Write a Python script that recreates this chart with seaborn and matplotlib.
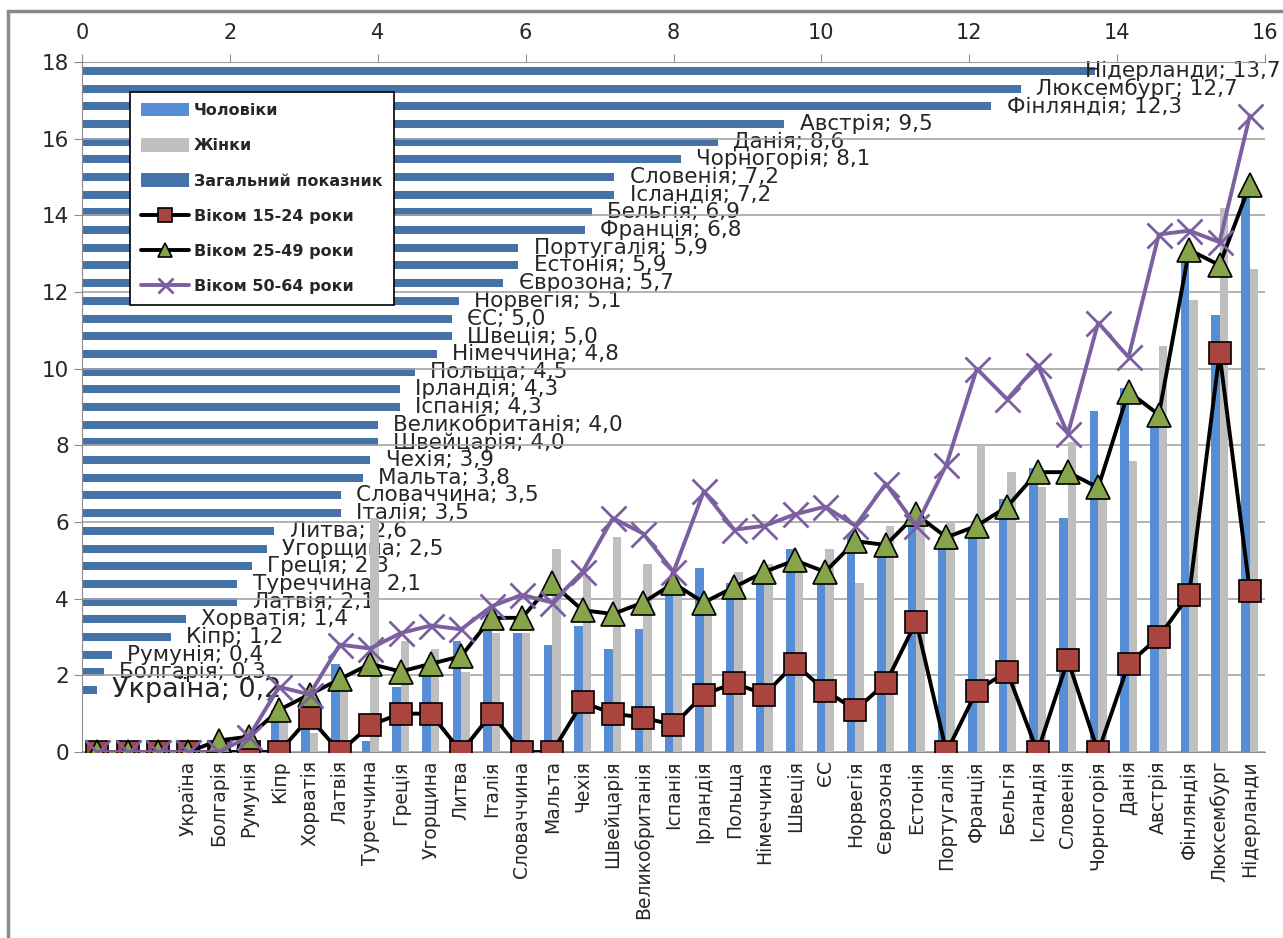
import numpy as np
import pandas as pd
import matplotlib
matplotlib.use("Agg")
import matplotlib.pyplot as plt
from matplotlib.patches import Rectangle
import seaborn as sns

# countries on the bottom axis (left to right); the horizontal bars use the reverse order
countries = ["Україна", "Болгарія", "Румунія", "Кіпр", "Хорватія", "Латвія", "Туреччина",
             "Греція", "Угорщина", "Литва", "Італія", "Словаччина", "Мальта", "Чехія",
             "Швейцарія", "Великобританія", "Іспанія", "Ірландія", "Польща", "Німеччина",
             "Швеція", "ЄС", "Норвегія", "Єврозона", "Естонія", "Португалія", "Франція",
             "Бельгія", "Ісландія", "Словенія", "Чорногорія", "Данія", "Австрія",
             "Фінляндія", "Люксембург", "Нідерланди"]
total = [0.2, 0.3, 0.4, 1.2, 1.4, 2.1, 2.1, 2.3, 2.5, 2.6, 3.5, 3.5, 3.8, 3.9, 4.0, 4.0,
         4.3, 4.3, 4.5, 4.8, 5.0, 5.0, 5.1, 5.7, 5.9, 5.9, 6.8, 6.9, 7.2, 7.2, 8.1, 8.6,
         9.5, 12.3, 12.7, 13.7]

# bottom axis has three empty slots before Україна
x_labels = ["", "", ""] + countries
men = [0, 0, 0,
       0, 0, 0, 1.1, 0.6, 2.3, 0.3, 1.7, 2.0, 2.9, 3.2, 3.1, 2.8, 3.3, 2.7, 3.2, 4.4, 4.8,
       4.4, 4.5, 5.3, 4.5, 5.7, 5.3, 6.0, 5.6, 5.6, 6.6, 7.4, 6.1, 8.9, 9.5, 8.5, 12.9,
       11.4, 14.5]
women = [0, 0, 0,
         0, 0, 0, 0.9, 0.5, 1.9, 6.1, 2.9, 2.7, 2.1, 3.1, 3.1, 5.3, 4.6, 5.6, 4.9, 4.1, 3.7,
         4.7, 4.9, 4.9, 5.3, 4.4, 5.9, 6.0, 6.0, 8.0, 7.3, 6.9, 8.1, 6.7, 7.6, 10.6, 11.8,
         14.2, 12.6]
age_15_24 = [0, 0, 0,
             0, 0, 0, 0, 0.9, 0, 0.7, 1.0, 1.0, 0, 1.0, 0, 0, 1.3, 1.0, 0.9, 0.7, 1.5,
             1.8, 1.5, 2.3, 1.6, 1.1, 1.8, 3.4, 0, 1.6, 2.1, 0, 2.4, 0, 2.3, 3.0, 4.1,
             10.4, 4.2]
age_25_49 = [0, 0, 0,
             0, 0.3, 0.4, 1.1, 1.5, 1.9, 2.3, 2.1, 2.3, 2.5, 3.5, 3.5, 4.4, 3.7, 3.6, 3.9,
             4.4, 3.9, 4.3, 4.7, 5.0, 4.7, 5.5, 5.4, 6.2, 5.6, 5.9, 6.4, 7.3, 7.3, 6.9,
             9.4, 8.8, 13.1, 12.7, 14.8]
age_50_64 = [0, 0, 0,
             0, 0, 0.4, 1.7, 1.5, 2.8, 2.7, 3.1, 3.3, 3.2, 3.8, 4.1, 3.9, 4.7, 6.1, 5.7,
             4.7, 6.8, 5.8, 5.9, 6.2, 6.4, 5.9, 7.0, 5.9, 7.5, 10.0, 9.2, 10.1, 8.3, 11.2,
             10.3, 13.5, 13.6, 13.3, 16.6]

sns.set_style("white")
plt.rcParams["font.family"] = ["DejaVu Sans"]

W, H = 1283, 938
fig = plt.figure(figsize=(W / 100, H / 100), dpi=100)
rect = [82 / W, 1 - 752 / H, (1265 - 82) / W, (752 - 62) / H]
ax_h = fig.add_axes(rect)
ax = fig.add_axes(rect)
ax.patch.set_alpha(0)

grey_axis = "#8c8c8c"

# ---- horizontal bars: overall rate, top axis ----
h_names = countries[::-1]
h_vals = total[::-1]
sns.barplot(x=h_vals, y=h_names, orient="h", color="#4572A7", saturation=1,
            width=0.45, errorbar=None, linewidth=0, ax=ax_h)
ax_h.set_xlim(0, 16)
ax_h.set_ylim(len(x_labels) - 0.5, -0.5)
ax_h.xaxis.tick_top()
ax_h.set_xticks(range(0, 17, 2))
ax_h.set_yticks([])
ax_h.set_xlabel("")
ax_h.set_ylabel("")
ax_h.tick_params(axis="x", labelsize=15, length=6, color=grey_axis, pad=8)
for s in ["left", "right", "bottom"]:
    ax_h.spines[s].set_visible(False)
ax_h.spines["top"].set_color(grey_axis)

labels = [f"{c}; {v:.1f}".replace(".", ",") for c, v in zip(h_names, h_vals)]
texts = ax_h.bar_label(ax_h.containers[0], labels=labels, padding=11,
                       fontsize=15.5, color="#262626")
texts[-1].set_fontsize(19.5)
texts[0].set_ha("right")
texts[0].xy = (ax_h.get_xlim()[1], texts[0].xy[1])

# ---- vertical bars: men / women ----
n = len(x_labels)
pos = np.arange(n)
df = pd.DataFrame({
    "pos": list(pos) * 2,
    "value": men + women,
    "sex": ["Чоловіки"] * n + ["Жінки"] * n,
})
sns.barplot(data=df, x="pos", y="value", hue="sex", palette=["#558ED5", "#BFBFBF"],
            saturation=1, width=0.56, errorbar=None, legend=False, linewidth=0, ax=ax)

# ---- age group lines ----
l1, = ax.plot(pos, age_15_24, color="black", lw=2.8, marker="s", ms=16,
              mfc="#A9443F", mec="black", mew=1.2, zorder=4)
l2, = ax.plot(pos, age_25_49, color="black", lw=2.8, marker="^", ms=17,
              mfc="#86A44A", mec="black", mew=1.2, zorder=5)
l3, = ax.plot(pos, age_50_64, color="#7B5FA0", lw=2.8, marker="x", ms=18,
              mec="#7B5FA0", mew=2.0, zorder=6)

ax.set_xlim(-0.5, n - 0.5)
ax.set_ylim(0, 18)
ax.set_yticks(range(0, 19, 2))
ax.set_xticks(pos)
ax.set_xticklabels(x_labels, rotation=90, fontsize=13.5)
ax.set_xticks(np.arange(-0.5, n, 1), minor=True)
ax.tick_params(axis="x", which="major", length=0, pad=6)
ax.tick_params(axis="x", which="minor", length=7, color=grey_axis)
ax.tick_params(axis="y", labelsize=15.5, length=6, color=grey_axis, left=True)
ax.set_xlabel("")
ax.set_ylabel("")
ax.yaxis.grid(True, color="#a6a6a6", lw=1.2)
ax.set_axisbelow(True)
ax.spines["top"].set_visible(False)
ax.spines["right"].set_visible(False)
ax.spines["left"].set_color(grey_axis)
ax.spines["bottom"].set_color(grey_axis)

handles = [ax.containers[0], ax.containers[1], ax_h.containers[0], l1, l2, l3]
names = ["Чоловіки", "Жінки", "Загальний показник",
         "Віком 15-24 роки", "Віком 25-49 роки", "Віком 50-64 роки"]
leg = ax.legend(handles, names, loc="upper left", bbox_to_anchor=(130 / W, 1 - 92 / H),
                bbox_transform=fig.transFigure, frameon=True, fancybox=False,
                framealpha=1, edgecolor="black", prop={"size": 11.5, "weight": "bold"},
                handlelength=3.0, handleheight=0.9, handletextpad=0.3,
                labelspacing=1.25, borderpad=0.7, borderaxespad=0, markerscale=0.6)
leg.get_frame().set_linewidth(1.2)
leg.set_zorder(10)

fig.patches.append(Rectangle((8 / W, -0.05), 1.2, 1.05 - 11 / H, transform=fig.transFigure,
                             fill=False, ec="#8a8a8a", lw=2.5))

fig.savefig("out.png", dpi=100)
